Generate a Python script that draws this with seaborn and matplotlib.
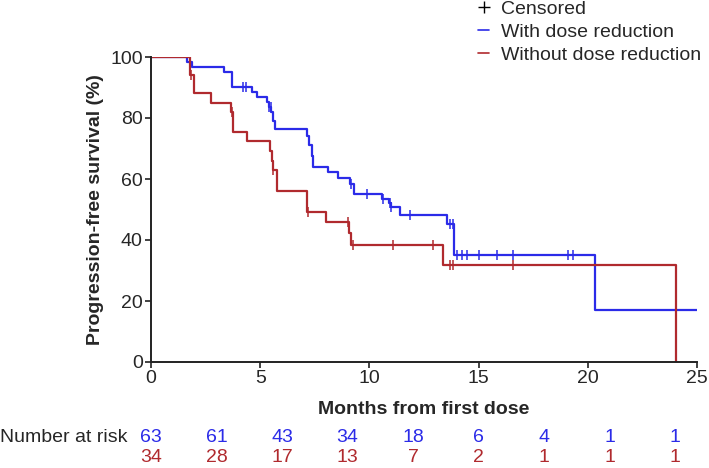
import matplotlib
matplotlib.use("Agg")
import matplotlib.pyplot as plt
import matplotlib.transforms as mtransforms
from matplotlib.lines import Line2D
import numpy as np
import pandas as pd
import seaborn as sns

# Kaplan-Meier step curves (time in months, survival in %)
with_t = [0, 1.65, 1.86, 3.36, 3.69, 3.73, 4.61, 4.87, 5.33, 5.42, 5.50, 5.58, 5.67,
          7.16, 7.25, 7.35, 7.43, 8.12, 8.58, 9.11, 9.29, 10.56, 10.9, 11.0, 11.4,
          13.55, 13.87, 20.33, 25.0]
with_s = [100, 98.4, 96.7, 95.0, 93.4, 90.1, 88.6, 86.9, 85.3, 83.7, 82.0, 79.0, 76.4,
          74.0, 71.0, 67.5, 63.9, 62.2, 60.3, 58.5, 55.1, 53.6, 52.2, 50.8, 48.3,
          45.2, 35.1, 17.0, 17.0]
with_cens = [3.69, 4.23, 4.35, 5.42, 5.48, 9.15, 9.9, 10.6, 10.95, 11.0, 11.86,
             13.69, 13.84, 14.0, 14.22, 14.45, 15.03, 15.82, 16.58, 19.1, 19.33]

without_t = [0, 1.79, 1.98, 2.75, 3.65, 3.77, 4.38, 5.45, 5.52, 5.57, 5.78, 7.16,
             8.0, 9.08, 9.14, 13.38, 24.03]
without_s = [100, 94.1, 88.2, 85.0, 82.0, 75.4, 72.3, 69.1, 66.0, 62.8, 56.2, 49.3,
             46.0, 42.2, 38.4, 31.8, 0]
without_cens = [1.82, 3.7, 5.57, 7.2, 9.04, 9.27, 11.06, 12.9, 13.69, 13.84, 16.58]

risk_times = [0, 3, 6, 9, 12, 15, 18, 21, 24]
risk_with = [63, 61, 43, 34, 18, 6, 4, 1, 1]
risk_without = [34, 28, 17, 13, 7, 2, 1, 1, 1]

BLUE = "#2b2be8"
RED = "#b02a2e"
FS = 14


def level_at(times, surv, t):
    idx = np.searchsorted(times, t, side="right") - 1
    return np.asarray(surv)[idx]


sns.set_style("white")
plt.rcParams["font.family"] = ["Liberation Sans", "DejaVu Sans"]

fig = plt.figure(figsize=(7.09, 4.68), dpi=100)
ax = fig.add_axes([151 / 709, 106 / 468, 546 / 709, 305 / 468])

for t, s, cens, col in [(with_t, with_s, with_cens, BLUE),
                        (without_t, without_s, without_cens, RED)]:
    df = pd.DataFrame({"t": t, "s": s})
    sns.lineplot(data=df, x="t", y="s", ax=ax, color=col, lw=1.6,
                 drawstyle="steps-post", estimator=None, sort=False)
    cdf = pd.DataFrame({"t": cens, "s": level_at(t, s, cens)})
    sns.scatterplot(data=cdf, x="t", y="s", ax=ax, marker="|", s=55,
                    color=col, linewidth=1.1)

ax.set_xlim(0, 25)
ax.set_ylim(0, 100)
ax.set_xticks(range(0, 26, 5))
ax.set_yticks(range(0, 101, 20))
for side in ["top", "right"]:
    ax.spines[side].set_visible(False)
for side in ["left", "bottom"]:
    ax.spines[side].set_color("#222222")
    ax.spines[side].set_linewidth(1.4)
ax.tick_params(axis="both", direction="out", length=4, width=1.2,
               color="#222222", labelsize=FS, pad=2,
               bottom=True, left=True)
ax.set_xlabel("Months from first dose", fontsize=FS, fontweight="bold", labelpad=10)
ax.set_ylabel("Progression-free survival (%)", fontsize=FS, fontweight="bold", labelpad=4)

handles = [
    Line2D([], [], color="black", marker="+", linestyle="none", markersize=8),
    Line2D([], [], color=BLUE, lw=1.2),
    Line2D([], [], color=RED, lw=1.2),
]
ax.legend(handles, ["Censored", "With dose reduction", "Without dose reduction"],
          loc="upper left", bbox_to_anchor=(468 / 709, 1.02),
          bbox_transform=fig.transFigure, frameon=False, fontsize=FS,
          handlelength=0.6, handletextpad=0.6, labelspacing=0.28, borderpad=0)

trans = mtransforms.blended_transform_factory(ax.transData, fig.transFigure)
fig.text(0.0, 1 - 438 / 468, "Number at risk", fontsize=FS, va="center", ha="left")
for x, a, b in zip(risk_times, risk_with, risk_without):
    ax.text(x, 1 - 438 / 468, str(a), transform=trans, color=BLUE,
            fontsize=FS, ha="center", va="center")
    ax.text(x, 1 - 457 / 468, str(b), transform=trans, color=RED,
            fontsize=FS, ha="center", va="center")

fig.savefig("out.png", dpi=100)
